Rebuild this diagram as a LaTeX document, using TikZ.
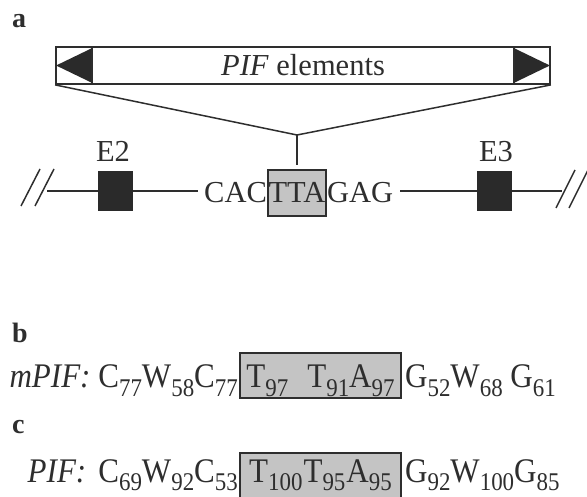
\documentclass[tikz,border=0pt]{standalone}
\usepackage{fontspec}
\setmainfont{Liberation Serif}
\newfontfamily\seqfamily{Liberation Serif}[FakeStretch=0.9]
\newcommand\figtext{\fontsize{30.5}{36}\selectfont}
\newcommand\seqtext{\seqfamily\fontsize{34.5}{40}\selectfont}
\newcommand\subidx[1]{\raisebox{-9pt}{\fontsize{25.5}{26}\selectfont #1}}
\definecolor{inkc}{HTML}{2E2E2E}
\definecolor{exonc}{HTML}{2A2A2A}
\definecolor{sitec}{HTML}{C4C4C4}
\begin{document}
\begin{tikzpicture}[x=1pt,y=-1pt,
  every node/.style={text=inkc, inner sep=0pt},
  panellabel/.style={anchor=base west, font=\fontsize{28}{32}\selectfont\bfseries},
  elembox/.style={draw=inkc, line width=1.8pt, fill=white, minimum width=494pt, minimum height=37pt},
  tir/.style={fill=exonc},
  link/.style={draw=inkc, line width=1.5pt},
  exon/.style={fill=exonc, minimum width=35pt, minimum height=40pt},
  sitebox/.style={draw=inkc, line width=1.8pt, fill=sitec},
  brk/.style={draw=inkc, line width=1.5pt}]
\useasboundingbox (0,0) rectangle (587,497);
\clip (0,0) rectangle (587,497);

% ---------- panel a ----------
\node[panellabel] (la) at (12,28) {a};

% transposon with terminal inverted repeats
\node[elembox] (elem) at (303,65.5) {};
\fill[tir] ([xshift=37pt,yshift=-2pt]elem.north west) -- ([xshift=37pt,yshift=2pt]elem.south west)
  -- ([xshift=1pt]elem.west) -- cycle;
\fill[tir] ([xshift=-37pt,yshift=-2pt]elem.north east) -- ([xshift=-37pt,yshift=2pt]elem.south east)
  -- ([xshift=-1pt]elem.east) -- cycle;
\draw[link, line width=1.8pt] ([xshift=37pt]elem.north west) -- ([xshift=37pt]elem.south west);
\draw[link, line width=1.8pt] ([xshift=-37pt]elem.north east) -- ([xshift=-37pt]elem.south east);
\node[anchor=base, font=\figtext] (elemtxt) at (303,76) {\textit{PIF} elements};

% insertion site
\node[sitebox, minimum width=58pt, minimum height=46pt] (site) at (297,193) {};
\node[anchor=base, font=\figtext] (tta) at (297,203) {TTA};
\node[anchor=base east, font=\figtext] (cac) at (site.west |- tta.base) {CAC};
\node[anchor=base west, font=\figtext] (gag) at (site.east |- tta.base) {GAG};

\coordinate (apex) at (297,135);
\coordinate (stem) at (297,165);
\draw[link] (elem.south west) -- (apex) -- (elem.south east);
\draw[link] (apex) -- (stem);

% exons and intron line
\node[exon] (e2) at (115.5,191) {};
\node[exon] (e3) at (494.5,191) {};
\node[anchor=base, font=\figtext] (e2l) at (113,162) {E2};
\node[anchor=base, font=\figtext] (e3l) at (496,162) {E3};
\coordinate (lend) at (47,191);
\coordinate (rend) at (562,191);
\draw[link] (lend) -- (e2.west);
\draw[link] (e2.east) -- ([xshift=-6pt]e2.east -| cac.west);
\draw[link] ([xshift=7pt]e3.west -| gag.east) -- (e3.west);
\draw[link] (e3.east) -- (rend);
\draw[brk] (21,206) -- (40,169);
\draw[brk] (35,206) -- (54,169);
\draw[brk] (556,208) -- (575,170);
\draw[brk] (569,208) -- (588,170);

% ---------- panel b ----------
\node[panellabel] (lb) at (12,343) {b};
\node[sitebox, minimum width=161pt, minimum height=45pt] (mbox) at (320.5,375.5) {};
\node[anchor=base, font=\seqtext] (mcore) at (320.5,388)
  {T\subidx{97}\hspace{19pt}T\subidx{91}A\subidx{97}};
\node[anchor=base east, font=\seqtext] (mpre) at ([xshift=-1pt]mbox.west |- mcore.base)
  {\textit{mPIF:} C\subidx{77}W\subidx{58}C\subidx{77}};
\node[anchor=base west, font=\seqtext] (mpost) at ([xshift=3pt]mbox.east |- mcore.base)
  {G\subidx{52}W\subidx{68} G\subidx{61}};

% ---------- panel c ----------
\node[panellabel] (lc) at (12,433) {c};
\node[sitebox, minimum width=161pt, minimum height=47pt] (pbox) at (320.5,476.5) {};
\node[anchor=base, font=\seqtext] (pcore) at (320.5,482)
  {T\subidx{100}\hspace{1pt}T\subidx{95}\hspace{1pt}A\subidx{95}};
\node[anchor=base east, font=\seqtext] (ppre) at ([xshift=-1pt]pbox.west |- pcore.base)
  {\textit{PIF:}\hspace{12pt}C\subidx{69}W\subidx{92}C\subidx{53}};
\node[anchor=base west, font=\seqtext] (ppost) at ([xshift=3pt]pbox.east |- pcore.base)
  {G\subidx{92}W\subidx{100}G\subidx{85}};
\end{tikzpicture}
\end{document}
